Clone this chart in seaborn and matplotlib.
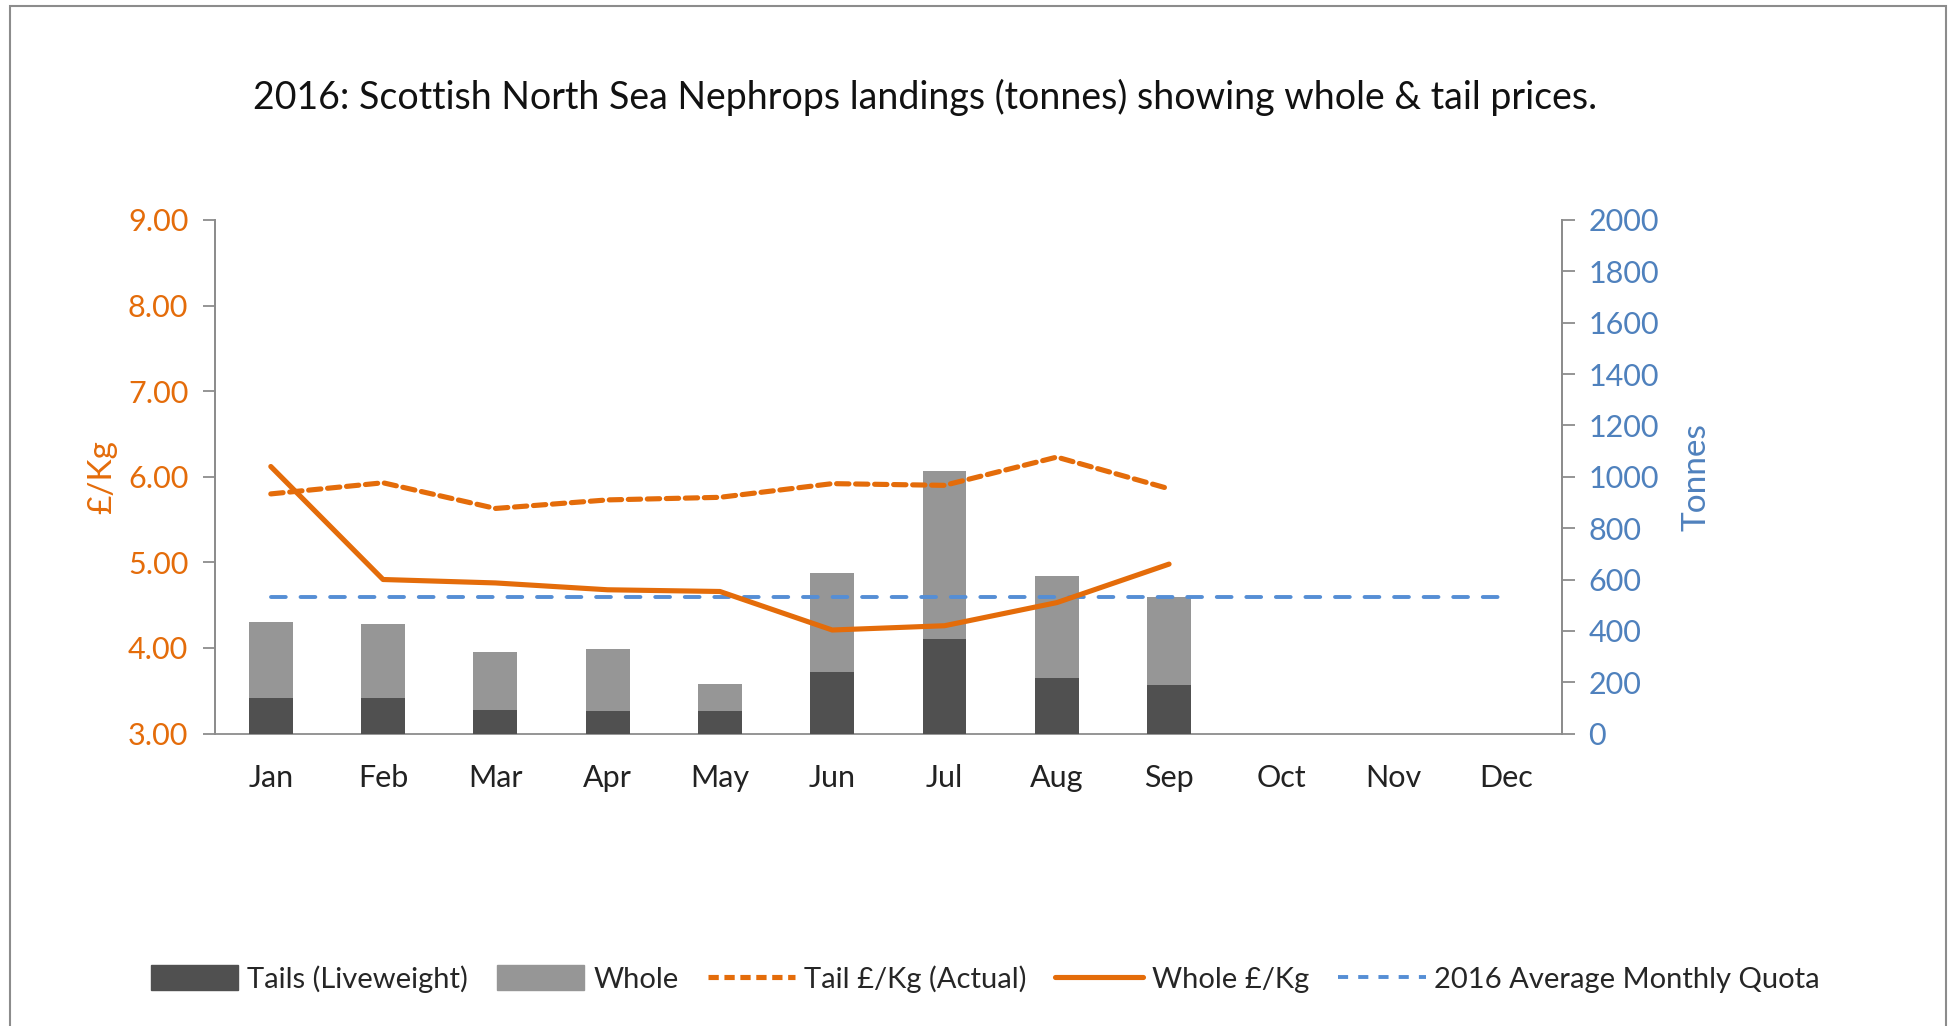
import numpy as np
import pandas as pd
import matplotlib
matplotlib.use('Agg')
import matplotlib.pyplot as plt
import matplotlib.patches as mpatches
import matplotlib.lines as mlines
from matplotlib.ticker import FixedLocator, NullFormatter
import seaborn as sns

# ==============================================================================
# DATA
# ==============================================================================
months = ['Jan', 'Feb', 'Mar', 'Apr', 'May', 'Jun', 'Jul', 'Aug', 'Sep', 'Oct', 'Nov', 'Dec']
tails_t = [137, 137, 93, 87, 87, 239, 368, 216, 188]        # tonnes, liveweight
whole_t = [296, 288, 224, 242, 108, 385, 655, 397, 345]     # tonnes
tail_price = [5.80, 5.93, 5.63, 5.73, 5.76, 5.92, 5.90, 6.23, 5.86]
whole_price = [6.12, 4.80, 4.76, 4.68, 4.66, 4.21, 4.26, 4.53, 4.98]
quota = 532                                                 # 2016 average monthly quota

ORANGE = '#E46C0A'
BLUE = '#558ED5'
BLUE_TXT = '#4F81BD'
DARK = '#505050'
LIGHT = '#969696'
AXIS = '#8C8C8C'

sns.set_style('white')
plt.rcParams['font.family'] = ['Lato', 'DejaVu Sans']

n = len(tails_t)
df = pd.DataFrame({
    'month': months[:n],
    'tails': tails_t,
    'total': np.array(tails_t) + np.array(whole_t),
    'tail_price': tail_price,
    'whole_price': whole_price,
    'pos': np.arange(n),
})

fig = plt.figure(figsize=(19.55, 10.26), dpi=100)
ax = fig.add_axes([0.1098, 0.285, 0.799 - 0.1098, 0.7856 - 0.285])
ax2 = ax.twinx()
ax2.set_zorder(ax.get_zorder() + 1)
ax2.patch.set_visible(False)

# --- bars on tonnes axis (main axes, ticks on right) ---
order = months
sns.barplot(data=df, x='month', y='total', order=order, color=LIGHT,
            width=0.39, saturation=1, linewidth=0, ax=ax, zorder=2)
sns.barplot(data=df, x='month', y='tails', order=order, color=DARK,
            width=0.39, saturation=1, linewidth=0, ax=ax, zorder=3)
ax.plot([0, len(months) - 1], [quota, quota], color=BLUE, lw=2.8,
        dashes=(3.8, 3.8), dash_capstyle='round', zorder=4)
ax.set_ylim(0, 2000)
ax.set_xlim(-0.5, len(months) - 0.5)
ax.set_yticks(range(0, 2001, 200))
ax.yaxis.tick_right()
ax.yaxis.set_label_position('right')
ax.tick_params(axis='y', colors=AXIS, labelcolor=BLUE_TXT, labelsize=22,
               direction='out', length=9, width=1.3, pad=10)
ax.set_ylabel('Tonnes', color=BLUE_TXT, fontsize=24, labelpad=16)
ax.set_xlabel('')

# month boundaries as tick marks
ax.xaxis.set_minor_locator(FixedLocator(np.arange(-0.5, len(months), 1.0)))
ax.xaxis.set_minor_formatter(NullFormatter())
ax.tick_params(axis='x', which='major', length=0, labelsize=22, labelcolor='#222222', pad=22)
ax.tick_params(axis='x', which='minor', length=9, width=1.3, color=AXIS, direction='out')

# --- price lines on left axis ---
sns.lineplot(data=df, x='pos', y='tail_price', color=ORANGE, lw=3.7, ax=ax2)
ax2.lines[-1].set_dashes((2.4, 1.3))
ax2.lines[-1].set_dash_capstyle('round')
sns.lineplot(data=df, x='pos', y='whole_price', color=ORANGE, lw=3.7, ax=ax2)
ax2.set_ylim(3, 9)
ax2.set_xlim(-0.5, len(months) - 0.5)
ax2.set_yticks(np.arange(3, 9.01, 1))
ax2.set_yticklabels([f'{v:.2f}' for v in np.arange(3, 9.01, 1)])
ax2.yaxis.tick_left()
ax2.yaxis.set_label_position('left')
ax2.tick_params(axis='y', colors=AXIS, labelcolor=ORANGE, labelsize=22,
                direction='out', length=9, width=1.3, pad=10)
ax2.set_ylabel('£/Kg', color=ORANGE, fontsize=24, labelpad=8)
ax2.set_xlabel('')

for a in (ax, ax2):
    a.spines['top'].set_visible(False)
    for side in ('left', 'right', 'bottom'):
        a.spines[side].set_color(AXIS)
        a.spines[side].set_linewidth(1.3)
ax2.spines['bottom'].set_visible(False)

fig.text(0.473, 0.905, '2016: Scottish North Sea Nephrops landings (tonnes) showing whole & tail prices.',
         ha='center', va='center', fontsize=27, color='#111111')

# legend
handles = [
    mpatches.Patch(color=DARK, label='Tails (Liveweight)'),
    mpatches.Patch(color=LIGHT, label='Whole'),
    mlines.Line2D([], [], color=ORANGE, lw=3.7, dashes=(2.0, 1.1), label='Tail £/Kg (Actual)'),
    mlines.Line2D([], [], color=ORANGE, lw=3.7, label='Whole £/Kg'),
    mlines.Line2D([], [], color=BLUE, lw=2.8, dashes=(2.6, 2.6), label='2016 Average Monthly Quota'),
]
fig.legend(handles=handles, loc='center', bbox_to_anchor=(0.504, 0.046), ncol=5,
           frameon=False, fontsize=21, handlelength=3.0, handletextpad=0.3,
           columnspacing=1.0, handleheight=0.9)

# chart-area border
fig.patches.append(mpatches.Rectangle((10 / 1955, -0.02), (1946 - 10) / 1955, 1.02 - 6 / 1026,
                                      transform=fig.transFigure, fill=False,
                                      edgecolor='#8C8C8C', lw=1.5))

fig.savefig('out.png', dpi=100)
